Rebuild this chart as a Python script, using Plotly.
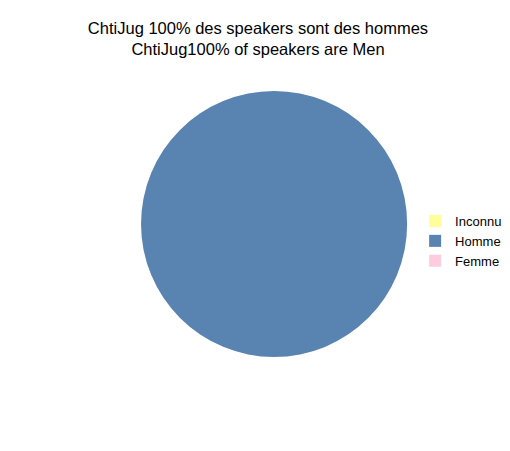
import plotly.graph_objects as go

categories = ["Inconnu", "Homme", "Femme"]
speakers = [0, 100, 0]
colors = ["#ffff99", "#5983b0", "#ffccdd"]

fig = go.Figure()

fig.add_trace(go.Pie(
    labels=categories,
    values=speakers,
    marker=dict(colors=colors, line=dict(width=0)),
    textinfo="none",
    sort=False,
    direction="clockwise",
    hoverinfo="label+value",
    domain=dict(x=[0.265, 0.795], y=[0.212, 0.813]),
))

# la page a une marge de 8px, donc figure un peu plus petite que la fenetre
fig.update_layout(
    width=502,
    height=443,
    title=dict(
        text="ChtiJug 100% des speakers sont des hommes<br>ChtiJug100% of speakers are Men",
        x=0.498,
        xanchor="center",
        y=0.942,
        yanchor="middle",
        font=dict(family="Liberation Sans", size=16.5, color="#000000"),
    ),
    font=dict(family="Liberation Sans", size=13, color="#000000"),
    legend=dict(
        x=0.811,
        y=0.474,
        xanchor="left",
        yanchor="middle",
        itemwidth=30,
        tracegroupgap=0,
        bgcolor="rgba(0,0,0,0)",
    ),
    margin=dict(l=0, r=0, t=0, b=0, autoexpand=False),
    paper_bgcolor="white",
    plot_bgcolor="white",
)

fig.write_html("out.html")
